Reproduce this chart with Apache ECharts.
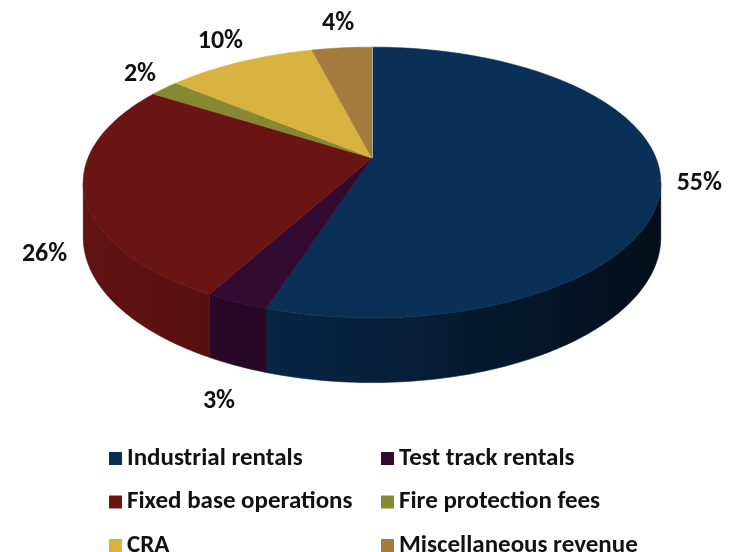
<!DOCTYPE html>
<html>
<head>
<meta charset="utf-8">
<script src="https://cdn.jsdelivr.net/npm/echarts@6/dist/echarts.min.js"></script>
<style>
  html, body { margin: 0; padding: 0; background: #fff; }
  #chart { width: 755px; height: 552px; }
</style>
</head>
<body>
<div id="chart"></div>
<script>
var categories = ['Industrial rentals', 'Test track rentals', 'Fixed base operations',
                  'Fire protection fees', 'CRA', 'Miscellaneous revenue'];
var shares = [55, 3, 26, 2, 10, 4];

var colors = ['#0b3058', '#330a31', '#6b1414', '#888833', '#d8b340', '#a57a3e'];
var fontFamily = "Carlito, 'Liberation Sans Narrow', 'DejaVu Sans Condensed', sans-serif";

var chart = echarts.init(document.getElementById('chart'));

// 3d pie: a tilted disc seen in perspective
var cx = 372, cy = 158, R = 284;
var tiltSin = 0.461, tiltCos = 0.887, camDist = 1392, depth = 53;
var k = R * tiltCos / camDist;
var wallFrom = Math.acos(-k), wallTo = 2 * Math.PI - wallFrom;

var total = shares.reduce(function(a, b) { return a + b; }, 0);
var starts = [], acc = 0;
shares.forEach(function(v) {
    starts.push(acc / total * 2 * Math.PI);
    acc += v;
});

function project(phi, r) {
    var X = r * Math.sin(phi), Z = r * Math.cos(phi);
    var f = camDist / (camDist + Z * tiltCos);
    return [cx + X * f, cy - Z * tiltSin * f, f];
}

function arc(a0, a1, drop) {
    var n = Math.max(2, Math.ceil((a1 - a0) / (Math.PI / 180)));
    var pts = [];
    for (var j = 0; j <= n; j++) {
        var p = project(a0 + (a1 - a0) * j / n, R);
        pts.push([p[0], p[1] + (drop ? depth * p[2] : 0)]);
    }
    return pts;
}

function shade(hex, f) {
    var n = parseInt(hex.slice(1), 16);
    var r = Math.round(((n >> 16) & 255) * f), g = Math.round(((n >> 8) & 255) * f), b = Math.round((n & 255) * f);
    return 'rgb(' + r + ',' + g + ',' + b + ')';
}

var measureCtx = document.createElement('canvas').getContext('2d');
function textWidth(txt, size) {
    measureCtx.font = 'bold ' + size + 'px ' + fontFamily;
    return measureCtx.measureText(txt).width;
}

function makeRender(i) {
    return function(params, api) {
        var a0 = starts[i];
        var a1 = a0 + api.value(0) / total * 2 * Math.PI;
        var c = colors[i];
        var children = [];

        // outer wall, front half only
        var w0 = Math.max(a0, wallFrom), w1 = Math.min(a1, wallTo);
        if (w1 > w0) {
            var grad = new echarts.graphic.LinearGradient(cx - R, 0, cx + R, 0, [
                { offset: 0, color: shade(c, 0.92) },
                { offset: 0.5, color: shade(c, 0.68) },
                { offset: 1, color: shade(c, 0.3) }
            ], true);
            var wall = arc(w0, w1, false).concat(arc(w0, w1, true).reverse());
            children.push({ type: 'polygon', shape: { points: wall },
                style: { fill: grad, stroke: grad, lineWidth: 0.6 } });
        }

        // top face
        var v = project(0, 0);
        var face = [[v[0], v[1]]].concat(arc(a0, a1, false));
        children.push({ type: 'polygon', shape: { points: face },
            style: { fill: c, stroke: c, lineWidth: 0.6 } });

        if (i === 0) {
            var far = project(a0, R);
            children.push({ type: 'line', shape: { x1: v[0], y1: v[1], x2: far[0], y2: far[1] },
                style: { stroke: '#e4e4e4', lineWidth: 1.5 } });
        }

        // percentage label outside the slice
        var mid = (a0 + a1) / 2;
        var e = project(mid, R);
        var ax = e[0], ay = e[1];
        if (Math.cos(mid) < -0.2) ay += depth * e[2];
        var dx = Math.sin(mid), dy = -Math.cos(mid);
        var txt = api.value(0) + '%';
        var size = 26;
        var w = textWidth(txt, size), h = size * 0.8;
        var gap = 14 + 16 * Math.max(0, -Math.cos(mid));
        children.push({ type: 'text',
            x: ax + dx * gap + dx * w / 2,
            y: ay + dy * gap + dy * h / 2,
            style: { text: txt, fontSize: size, fontWeight: 'bold', fontFamily: fontFamily,
                     fill: '#111', align: 'center', verticalAlign: 'middle' } });

        return { type: 'group', children: children };
    };
}

var legendText = { fontSize: 25, fontWeight: 'bold', fontFamily: fontFamily, color: '#111', lineHeight: 22 };

function legendColumn(left, odd) {
    return {
        orient: 'vertical',
        left: left,
        top: 446,
        height: 130,
        padding: 0,
        icon: 'rect',
        itemWidth: 13,
        itemHeight: 13,
        itemGap: 18.5,
        textStyle: legendText,
        data: categories.filter(function(n, i) { return i % 2 === odd; })
    };
}

option = {
    animation: false,
    backgroundColor: '#fff',
    legend: [legendColumn(109, 0), legendColumn(381, 1)],
    series: categories.map(function(name, i) {
        return {
            name: name,
            type: 'custom',
            coordinateSystem: 'none',
            silent: true,
            itemStyle: { color: colors[i] },
            renderItem: makeRender(i),
            data: [shares[i]]
        };
    })
};
chart.setOption(option);
</script>
</body>
</html>
